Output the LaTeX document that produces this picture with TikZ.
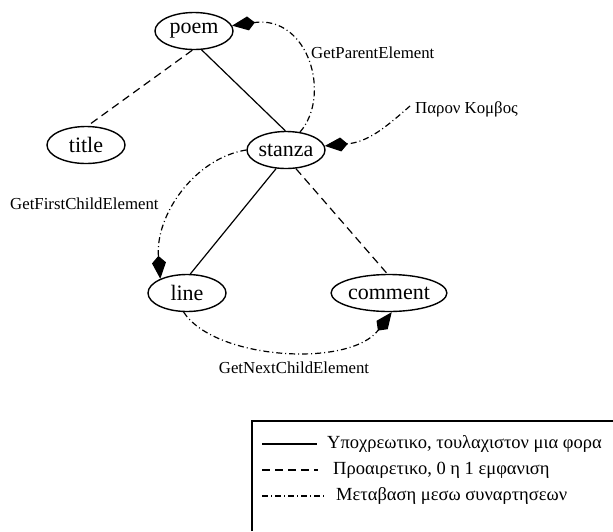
\documentclass[tikz,border=0pt]{standalone}
\usepackage{fontspec}
\setmainfont{Liberation Serif}
\usetikzlibrary{arrows.meta,shapes.geometric}

\tikzset{
  elem/.style={ellipse, draw, line width=1.4pt, minimum width=78pt, minimum height=37pt,
    inner sep=0pt, font=\fontsize{22}{25}\selectfont},
  lbl/.style={inner sep=0pt, font=\fontsize{16.8}{19}\selectfont},
  legtext/.style={inner sep=0pt, font=\fontsize{18.5}{21}\selectfont},
  must/.style={line width=1.2pt},
  opt/.style={line width=1.2pt, dash pattern=on 8pt off 5pt},
  nav/.style={line width=1.2pt, dash pattern=on 6pt off 3pt on 1pt off 3pt,
    -{Kite[length=23pt,width=14pt,inset=7pt]}},
  navplain/.style={line width=1.2pt, dash pattern=on 6pt off 3pt on 1pt off 3pt},
}

\begin{document}
\begin{tikzpicture}[x=1pt,y=-1pt]
\useasboundingbox (0,0) rectangle (613,531);

% element tree
\node[elem] (poem)    at (194,31)  {poem};
\node[elem] (title)   at (86,145)  {title};
\node[elem] (stanza)  at (286,150) {stanza};
\node[elem] (line)    at (187,293) {line};
\node[elem, minimum width=96pt] (comment) at (389,293) {comment};

\draw[must] (poem.-68) -- (stanza.92);
\draw[opt]  (poem.-95) -- (title.85);
\draw[must] (stanza.-118) -- (line.80);
\draw[opt]  (stanza.-62) -- (comment.95);

% navigation functions
\node[lbl, anchor=west] (gp) at (311,53) {GetParentElement};
\node[lbl, anchor=west] (cur) at (415,109) {Παρον Κομβος};
\node[lbl, anchor=west] (gf) at (10,204) {GetFirstChildElement};
\node[lbl] (gn) at (294,368) {GetNextChildElement};

\draw[nav] (stanza.52) .. controls (332,95) and (308,15) .. (poem.8);
\draw[nav] ([xshift=-5pt,yshift=3pt]cur.west) .. controls (385,128) and (368,142) .. (stanza.6);
\draw[nav] (stanza.west) .. controls (195,158) and (155,215) .. (line.152);
\draw[nav] (line.-100) .. controls (215,360) and (350,368) .. (comment.-82);

% legend
\draw[line width=1.2pt] (252,531) -- (252,421) -- (613,421);
\coordinate (l1a) at (262,444); \coordinate (l1b) at (317,444);
\coordinate (l2a) at (262,470); \coordinate (l2b) at (318,470);
\coordinate (l3a) at (262,496); \coordinate (l3b) at (327,496);
\draw[must] (l1a) -- (l1b);
\draw[opt] (l2a) -- (l2b);
\draw[navplain] (l3a) -- (l3b);
\node[legtext, anchor=west] (t1) at (327,444) {Υποχρεωτικο, τουλαχιστον μια φορα};
\node[legtext, anchor=west] (t2) at (333,470) {Προαιρετικο, 0 η 1 εμφανιση};
\node[legtext, anchor=west] (t3) at (336,496) {Μεταβαση μεσω συναρτησεων};
\end{tikzpicture}
\end{document}
